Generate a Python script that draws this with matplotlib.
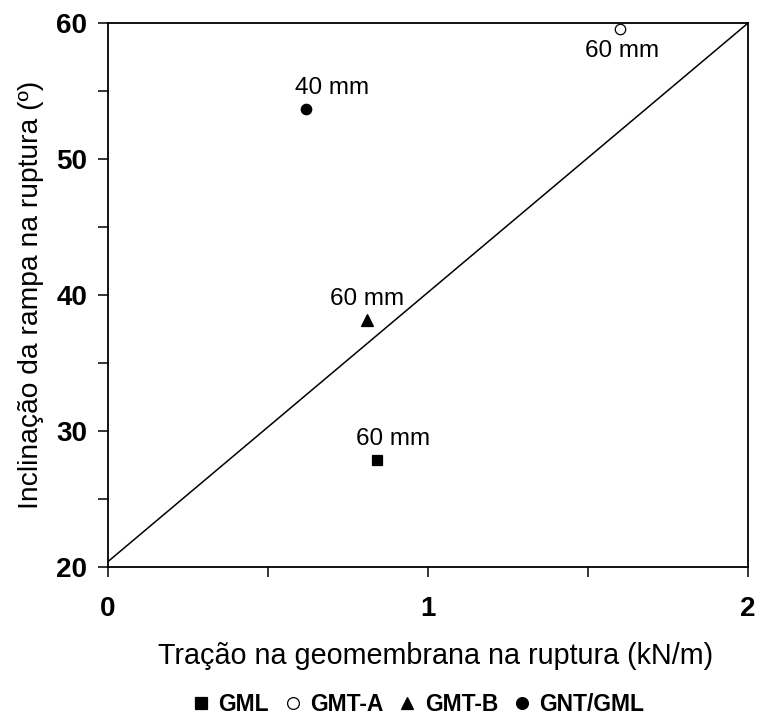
import matplotlib
matplotlib.use("Agg")
import matplotlib.pyplot as plt
from matplotlib.ticker import MultipleLocator
from matplotlib.lines import Line2D

plt.rcParams['font.family'] = ['Liberation Sans', 'DejaVu Sans']

series = ["GML", "GMT-A", "GMT-B", "GNT/GML"]
x_vals = [0.84, 1.60, 0.81, 0.62]
y_vals = [27.9, 59.6, 38.2, 53.7]
labels = ["60 mm", "60 mm", "60 mm", "40 mm"]
markers = ["s", "o", "^", "o"]
facecolors = ["black", "white", "black", "black"]
label_offsets = [(11.5, 14.5), (1.5, -16.5), (0, 14.5), (18.5, 15)]

line_x = [0, 2]
line_y = [20.4, 60]

fig = plt.figure(figsize=(7.58, 7.22), dpi=100)
ax = fig.add_axes([0.1425, 0.2147, 0.8443, 0.7533])

ax.plot(line_x, line_y, color="black", lw=1.1)

for xv, yv, lab, m, fc, off in zip(x_vals, y_vals, labels, markers, facecolors, label_offsets):
    ax.plot([xv], [yv], marker=m, ms=7.5 if m != "^" else 8.5, mfc=fc, mec="black",
            mew=0.9, ls="none", clip_on=False)
    ax.annotate(lab, (xv, yv), xytext=off, textcoords="offset points",
                ha="center", va="center", fontsize=17.5)

ax.set_xlim(0, 2)
ax.set_ylim(20, 60)
ax.xaxis.set_major_locator(MultipleLocator(1))
ax.xaxis.set_minor_locator(MultipleLocator(0.5))
ax.yaxis.set_major_locator(MultipleLocator(10))
ax.yaxis.set_minor_locator(MultipleLocator(5))
ax.tick_params(which="both", direction="out", width=1.1, color="black")
ax.tick_params(which="major", length=7, labelsize=20)
ax.tick_params(which="minor", length=7)
ax.tick_params(axis="x", which="major", pad=14)
ax.tick_params(axis="y", which="major", pad=8)
for lbl in ax.get_xticklabels() + ax.get_yticklabels():
    lbl.set_fontweight("bold")
for sp in ax.spines.values():
    sp.set_linewidth(1.3)

ax.set_xlabel("Tração na geomembrana na ruptura (kN/m)", fontsize=20.7, labelpad=14)
ax.xaxis.set_label_coords(0.512, -0.138)
ax.set_ylabel("Inclinação da rampa na ruptura (º)", fontsize=20.3, labelpad=9)

handles = [Line2D([], [], marker=m, ms=8.5 if m != "^" else 9, mfc=fc, mec="black",
                  mew=0.9, ls="none") for m, fc in zip(markers, facecolors)]
leg = fig.legend(handles, series, loc="center", bbox_to_anchor=(0.55, 0.024), ncol=4,
                 frameon=False, prop={"weight": "bold", "size": 16.5},
                 handletextpad=0.25, columnspacing=0.55, handlelength=1.0)

fig.savefig("out.png", dpi=100)
